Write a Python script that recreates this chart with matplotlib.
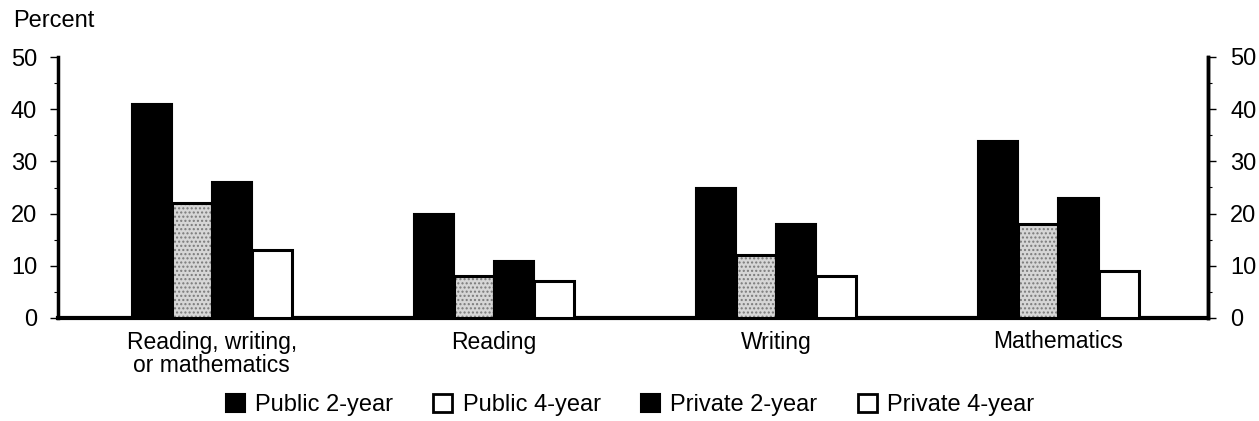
import matplotlib
matplotlib.use("Agg")
import matplotlib.pyplot as plt
import numpy as np
from matplotlib.patches import Patch
from matplotlib.ticker import MultipleLocator

plt.rcParams['font.family'] = ['Liberation Sans', 'DejaVu Sans']

categories = ["Reading, writing,\nor mathematics", "Reading", "Writing", "Mathematics"]
series_names = ["Public 2-year", "Public 4-year", "Private 2-year", "Private 4-year"]
public_2yr = [41, 20, 25, 34]
public_4yr = [22, 8, 12, 18]
private_2yr = [26, 11, 18, 23]
private_4yr = [13, 7, 8, 9]
yticks = [0, 10, 20, 30, 40, 50]

fig = plt.figure(figsize=(12.59, 4.21), dpi=100)
ax = fig.add_axes([58 / 1259, 1 - 318 / 421, (1208 - 58) / 1259, (318 - 57) / 421])

x = np.arange(len(categories))
w = 0.142
offsets = [-1.5, -0.5, 0.5, 1.5]

# Public 2-year: black
ax.bar(x + offsets[0] * w, public_2yr, w, color='black', edgecolor='black', linewidth=1.5, zorder=3)
# Public 4-year: stippled grey with black outline
ax.bar(x + offsets[1] * w, public_4yr, w, color='#d6d6d6', edgecolor='#7a7a7a', hatch='....', linewidth=0, zorder=3)
ax.bar(x + offsets[1] * w, public_4yr, w, fill=False, edgecolor='black', linewidth=2.2, zorder=4)
# Private 2-year: black
ax.bar(x + offsets[2] * w, private_2yr, w, color='black', edgecolor='black', linewidth=1.5, zorder=3)
# Private 4-year: white with black outline
ax.bar(x + offsets[3] * w, private_4yr, w, color='white', edgecolor='black', linewidth=2.2, zorder=3)

ax.set_xlim(-0.545, 3.53)
ax.set_ylim(0, 50)
ax.set_yticks(yticks)
ax.yaxis.set_minor_locator(MultipleLocator(5))
ax.tick_params(axis='y', which='major', direction='out', length=6, width=1, labelsize=17, pad=9)
ax.tick_params(axis='y', which='minor', direction='out', length=3, width=0.8)
ax.set_xticks(x)
ax.set_xticklabels(categories, fontsize=16.5, linespacing=1.05)
ax.tick_params(axis='x', length=0, pad=9)

ax.spines['top'].set_visible(False)
ax.spines['left'].set_linewidth(2.5)
ax.spines['right'].set_linewidth(2.5)
ax.spines['bottom'].set_linewidth(3)

axr = ax.twinx()
axr.set_ylim(0, 50)
axr.set_yticks(yticks)
axr.yaxis.set_minor_locator(MultipleLocator(5))
axr.tick_params(axis='y', which='major', direction='out', length=6, width=1, labelsize=17, pad=10)
axr.tick_params(axis='y', which='minor', direction='out', length=3, width=0.8)
for s in ['top', 'left', 'bottom']:
    axr.spines[s].set_visible(False)
axr.spines['right'].set_linewidth(2.5)

fig.text(13 / 1259, 1 - 21 / 421, "Percent", fontsize=17, va='center', ha='left')

handles = [
    Patch(facecolor='black', edgecolor='black', linewidth=1.5),
    Patch(facecolor='white', edgecolor='black', linewidth=2),
    Patch(facecolor='black', edgecolor='black', linewidth=1.5),
    Patch(facecolor='white', edgecolor='black', linewidth=2),
]
fig.legend(handles, series_names, loc='center', bbox_to_anchor=(630 / 1259, 1 - 405 / 421), ncol=4,
           frameon=False, fontsize=17, handlelength=0.8, handleheight=0.8,
           handletextpad=0.45, columnspacing=1.7, borderpad=0, borderaxespad=0)

fig.savefig("out.png", dpi=100)
